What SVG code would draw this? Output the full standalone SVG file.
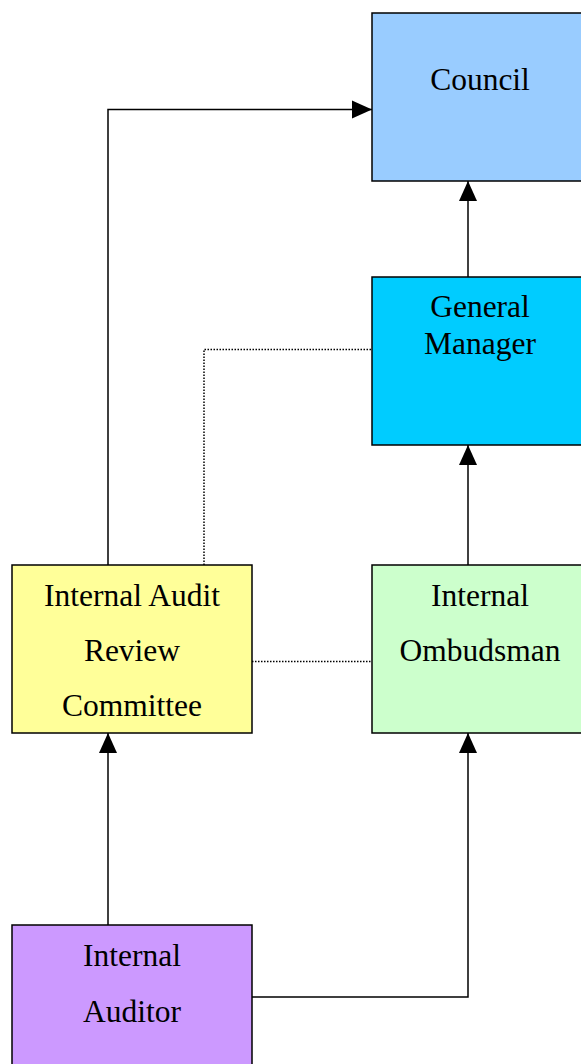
<svg xmlns="http://www.w3.org/2000/svg" width="581" height="1064" viewBox="0 0 581 1064">
<style>
.box{stroke:#000;stroke-width:1.5}
.lbl{font-family:"Liberation Serif","Times New Roman",serif;font-size:31.5px;fill:#000;text-anchor:middle}
.solid{fill:none;stroke:#000;stroke-width:1.5}
.dot{fill:none;stroke:#000;stroke-width:1.5;stroke-dasharray:1.5 1.5}
</style>
<defs>
<marker id="arr" viewBox="0 0 20 20" refX="20" refY="10" markerWidth="20" markerHeight="20" markerUnits="userSpaceOnUse" orient="auto">
<path d="M0,1 L20,10 L0,19 Z" fill="#000"/>
</marker>
</defs>
<rect width="581" height="1064" fill="#fff"/>
<g id="connectors">
<path class="solid" d="M108,565 V109.5 H372" marker-end="url(#arr)"/>
<path class="solid" d="M468,277 V181" marker-end="url(#arr)"/>
<path class="solid" d="M468,565 V445" marker-end="url(#arr)"/>
<path class="solid" d="M108,925 V733" marker-end="url(#arr)"/>
<path class="solid" d="M252,997 H468 V733" marker-end="url(#arr)"/>
<path class="dot" d="M204,565 V349.5 H372"/>
<path class="dot" d="M252,661.5 H372"/>
</g>
<g id="council">
<rect class="box" x="372" y="13" width="230" height="168" fill="#99CCFF"/>
<text class="lbl" x="480" y="90">Council</text>
</g>
<g id="general-manager">
<rect class="box" x="372" y="277" width="230" height="168" fill="#00CCFF"/>
<text class="lbl" x="480" y="317">General</text>
<text class="lbl" x="480" y="354">Manager</text>
</g>
<g id="internal-audit-review-committee">
<rect class="box" x="12" y="565" width="240" height="168" fill="#FFFF99"/>
<text class="lbl" x="132" y="606">Internal Audit</text>
<text class="lbl" x="132" y="661">Review</text>
<text class="lbl" x="132" y="716">Committee</text>
</g>
<g id="internal-ombudsman">
<rect class="box" x="372" y="565" width="230" height="168" fill="#CCFFCC"/>
<text class="lbl" x="480" y="606">Internal</text>
<text class="lbl" x="480" y="661">Ombudsman</text>
</g>
<g id="internal-auditor">
<rect class="box" x="12" y="925" width="240" height="168" fill="#CC99FF"/>
<text class="lbl" x="132" y="966">Internal</text>
<text class="lbl" x="132" y="1022">Auditor</text>
</g>
</svg>
